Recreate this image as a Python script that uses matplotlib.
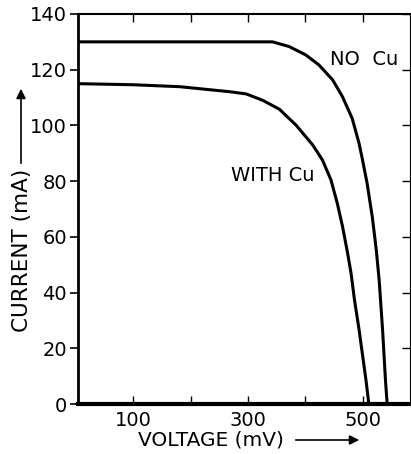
import numpy as np
import matplotlib.pyplot as plt

# 读图得到的数据 (电压 mV, 电流 mA)
volt_no_cu = [0, 100, 200, 285, 343, 372, 401, 424, 448, 465, 482, 494, 500,
              508, 517, 524, 529, 535, 540, 543]
curr_no_cu = [130, 130, 130, 130, 130, 128.3, 125.3, 121.7, 116.3, 110.3, 102.5, 93.5, 87.6,
              79.2, 67.2, 55.3, 44.5, 26.6, 8.6, 0]
volt_with_cu = [0, 100, 181, 268, 297, 326, 355, 384, 413, 430, 445,
                456, 465, 474, 480, 486, 494, 506, 511]
curr_with_cu = [115, 114.6, 113.9, 112.1, 111.3, 109, 105.8, 100.1, 93, 87.6, 80.4,
                72, 63.8, 54.1, 46.9, 37.3, 26.6, 8.6, 0]

x_ticks = [100, 200, 300, 400, 500]
x_tick_labels = ["100", "", "300", "", "500"]
y_ticks = [0, 20, 40, 60, 80, 100, 120, 140]

plt.rcParams['font.family'] = ['DejaVu Sans']

fig = plt.figure(figsize=(4.11, 4.54), dpi=100)
ax = fig.add_axes([0.1898, 0.1101, 0.808, 0.8591])

# 两条曲线
ax.plot(volt_no_cu, curr_no_cu, color="black", linewidth=2.2, solid_joinstyle="round")
ax.plot(volt_with_cu, curr_with_cu, color="black", linewidth=2.2, solid_joinstyle="round")

ax.set_xlim(3.5, 583)
ax.set_ylim(0, 140)

ax.set_xticks(x_ticks)
ax.set_xticklabels(x_tick_labels, fontsize=14)
ax.set_yticks(y_ticks)
ax.set_yticklabels([str(v) for v in y_ticks], fontsize=14)

# 刻度方向: 左边朝外, 其它朝里
ax.tick_params(axis="y", left=True, right=True, direction="in", length=6, width=1, pad=8)
ax.tick_params(axis="x", top=True, bottom=True, direction="in", length=6, width=1, pad=5)
for t in ax.yaxis.get_major_ticks():
    t.tick1line.set_marker(0)  # 左侧刻度朝外
    t.tick1line.set_markersize(6)
    t.tick1line.set_markeredgewidth(1.2)

ax.spines["left"].set_linewidth(2)
ax.spines["bottom"].set_linewidth(3)
ax.spines["top"].set_linewidth(1.5)
ax.spines["right"].set_linewidth(0.8)

# 曲线标签
ax.text(443, 123.5, "NO  Cu", fontsize=14, va="center")
ax.text(271, 82.2, "WITH Cu", fontsize=14, va="center")

# 坐标轴标题和箭头
fig.text(211 / 411, 1 - 440 / 454, "VOLTAGE (mV)", fontsize=14.5, ha="center", va="center")
ax.annotate("", xy=(362 / 411, 1 - 440 / 454), xytext=(293 / 411, 1 - 440 / 454),
            xycoords="figure fraction", textcoords="figure fraction", annotation_clip=False,
            arrowprops=dict(arrowstyle="-|>", color="black", lw=1.2, mutation_scale=14))
fig.text(22 / 411, 1 - 250 / 454, "CURRENT (mA)", fontsize=15.5, rotation=90, ha="center", va="center")
ax.annotate("", xy=(21 / 411, 1 - 86 / 454), xytext=(21 / 411, 1 - 166 / 454),
            xycoords="figure fraction", textcoords="figure fraction", annotation_clip=False,
            arrowprops=dict(arrowstyle="-|>", color="black", lw=1.2, mutation_scale=14))

fig.savefig("out.png", dpi=100)
